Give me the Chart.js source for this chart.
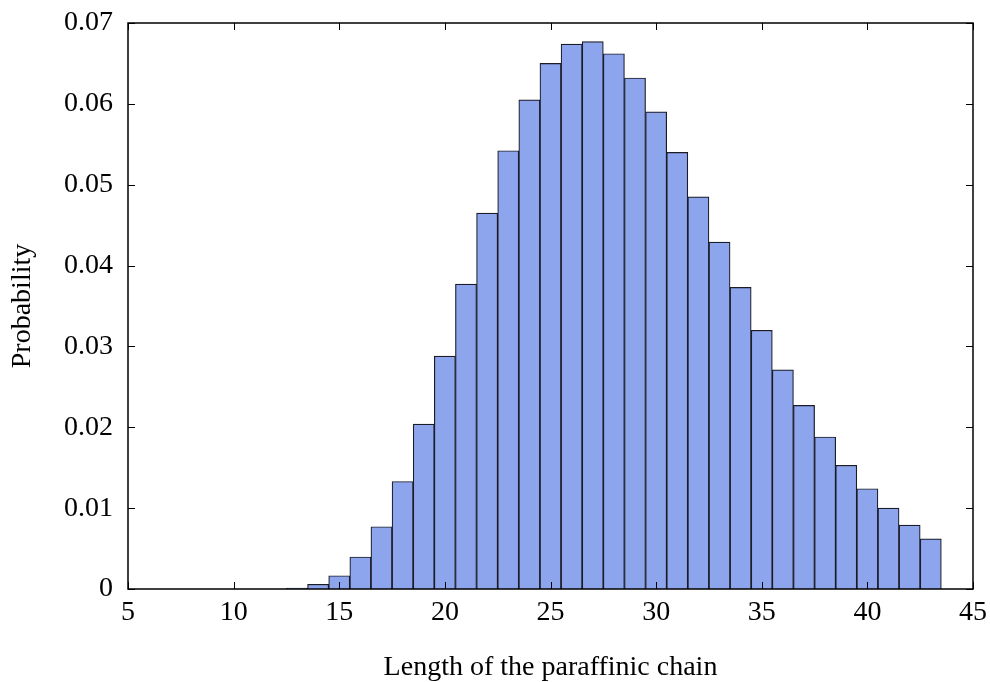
<!DOCTYPE html>
<html>
<head>
<meta charset="utf-8">
<script src="https://cdn.jsdelivr.net/npm/chart.js@4/dist/chart.umd.min.js"></script>
<style>
  html, body { margin: 0; padding: 0; background: #fff; }
  #wrap { width: 990px; height: 682px; }
</style>
</head>
<body>
<div id="wrap"><canvas id="histChart" width="990" height="682"></canvas></div>
<script>
// chain length (bin centres) and probability of each bin
const chainLengths = [13, 14, 15, 16, 17, 18, 19, 20, 21, 22, 23, 24, 25, 26, 27, 28,
    29, 30, 31, 32, 33, 34, 35, 36, 37, 38, 39, 40, 41, 42, 43];
const probabilities = [0.0001, 0.00058, 0.00164, 0.00396, 0.0077, 0.0133, 0.0204, 0.0288,
    0.0377, 0.0465, 0.0542, 0.0605, 0.0650, 0.0674, 0.0677, 0.0662, 0.0632, 0.0590,
    0.0540, 0.0485, 0.0429, 0.0373, 0.0320, 0.0271, 0.0227, 0.0188, 0.0153, 0.0124,
    0.0100, 0.0079, 0.0062];
const xTickLabels = ['5', '10', '15', '20', '25', '30', '35', '40', '45'];
const yTickLabels = ['0', '0.01', '0.02', '0.03', '0.04', '0.05', '0.06', '0.07'];

const FONT = "'Liberation Serif', 'DejaVu Serif', serif";

// gnuplot-like frame with inward ticks on all four sides
const frameTicks = {
    id: 'frameTicks',
    afterDatasetsDraw(chart) {
        const { ctx, chartArea: a, scales } = chart;
        const len = 7;
        ctx.save();
        ctx.strokeStyle = '#000';
        ctx.lineWidth = 1;
        ctx.beginPath();
        scales.x.ticks.forEach(t => {
            const px = Math.round(scales.x.getPixelForValue(t.value)) + 0.5;
            ctx.moveTo(px, a.bottom); ctx.lineTo(px, a.bottom - len);
            ctx.moveTo(px, a.top); ctx.lineTo(px, a.top + len);
        });
        scales.y.ticks.forEach(t => {
            const py = Math.round(scales.y.getPixelForValue(t.value)) + 0.5;
            ctx.moveTo(a.left, py); ctx.lineTo(a.left + len, py);
            ctx.moveTo(a.right, py); ctx.lineTo(a.right - len, py);
        });
        ctx.stroke();
        ctx.lineWidth = 1.5;
        ctx.strokeRect(a.left, a.top, a.right - a.left, a.bottom - a.top);
        ctx.restore();
    }
};

const ctx = document.getElementById('histChart').getContext('2d');
new Chart(ctx, {
    type: 'bar',
    data: {
        datasets: [{
            data: chainLengths.map((x, i) => ({ x: x, y: probabilities[i] })),
            backgroundColor: 'rgb(140, 165, 236)',
            borderColor: '#1c1c28',
            borderWidth: 1.2,
            barPercentage: 1,
            categoryPercentage: 1
        }]
    },
    options: {
        responsive: false,
        animation: false,
        devicePixelRatio: 1,
        layout: { padding: { left: 0, top: 23, right: 17, bottom: 0 } },
        plugins: {
            legend: { display: false },
            tooltip: { enabled: false }
        },
        scales: {
            x: {
                type: 'linear',
                offset: false,
                min: 5,
                max: 45,
                border: { display: false },
                grid: { display: false, drawTicks: false },
                ticks: {
                    stepSize: 5,
                    maxRotation: 0,
                    autoSkip: false,
                    padding: 7,
                    color: '#000',
                    font: { family: FONT, size: 28 },
                    callback: (v) => xTickLabels[(v - 5) / 5]
                },
                title: {
                    display: true,
                    text: 'Length of the paraffinic chain',
                    color: '#000',
                    font: { family: FONT, size: 28, lineHeight: 1 },
                    padding: { top: 0, bottom: 0 }
                },
                afterFit: (scale) => {
                    scale.height = 93;
                    scale.paddingLeft = 0;
                    scale.paddingRight = 0;
                }
            },
            y: {
                min: 0,
                max: 0.07,
                border: { display: false },
                grid: { display: false, drawTicks: false },
                ticks: {
                    stepSize: 0.01,
                    padding: 15,
                    color: '#000',
                    font: { family: FONT, size: 28 },
                    callback: (v) => yTickLabels[Math.round(v * 100)]
                },
                title: {
                    display: true,
                    text: 'Probability',
                    color: '#000',
                    font: { family: FONT, size: 28, lineHeight: 1.2 },
                    padding: { top: 6, bottom: 0 }
                },
                afterFit: (scale) => {
                    scale.width = 128;
                    scale.paddingTop = 0;
                    scale.paddingBottom = 0;
                }
            }
        }
    },
    plugins: [frameTicks]
});
</script>
</body>
</html>
